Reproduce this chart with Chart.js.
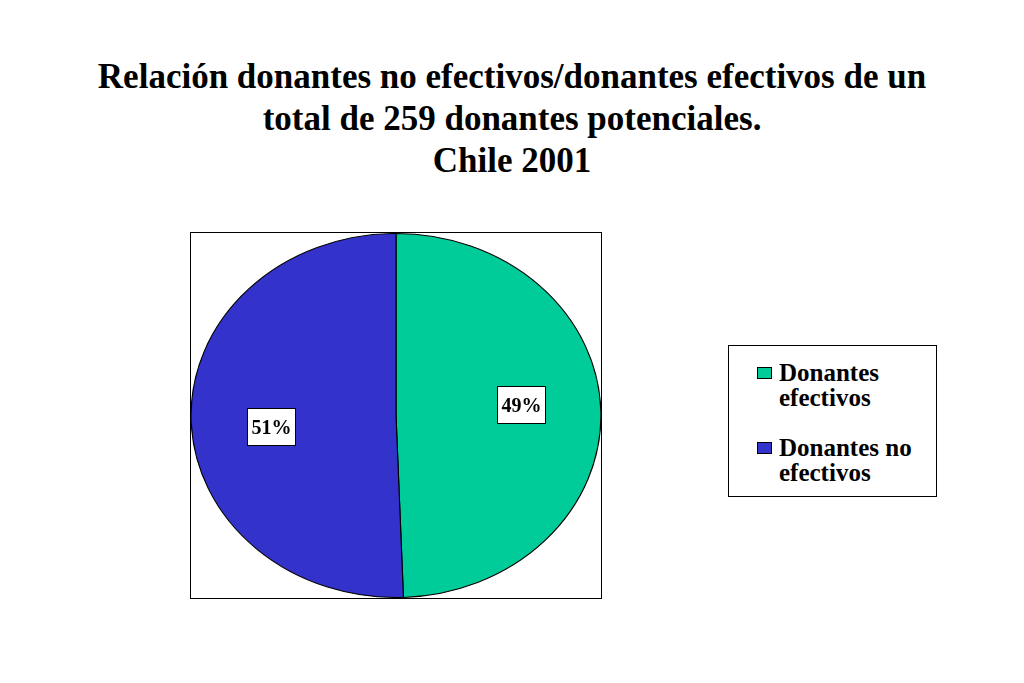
<!DOCTYPE html>
<html>
<head>
<meta charset="utf-8">
<script src="https://cdn.jsdelivr.net/npm/chart.js@4.4.0/dist/chart.umd.min.js"></script>
<style>
html,body{margin:0;padding:0;background:#fff;}
body{width:1024px;height:683px;position:relative;overflow:hidden;font-family:"Liberation Serif","Times New Roman",serif;color:#000;}
#title{position:absolute;left:0;top:56px;width:1024px;text-align:center;font-weight:bold;font-size:35px;line-height:42px;}
#frame{position:absolute;left:190px;top:232px;width:412px;height:367px;box-sizing:border-box;border:1px solid #000;}
#frame canvas{display:block;}
#legend{position:absolute;left:728px;top:345px;width:209px;height:152px;box-sizing:border-box;border:1px solid #000;}
.item{position:absolute;left:0;width:200px;font-weight:bold;font-size:25px;line-height:25px;}
.sw{position:absolute;left:28px;top:7px;width:15px;height:12px;box-sizing:border-box;border:1px solid #000;}
.tx{position:absolute;left:50px;top:0;width:155px;}
</style>
</head>
<body>
<div id="title">Relación donantes no efectivos/donantes efectivos de un<br>total de 259 donantes potenciales.<br>Chile 2001</div>
<div id="frame"><canvas id="c"></canvas></div>
<div id="legend"></div>
<script>
const categories = ['Donantes efectivos', 'Donantes no efectivos'];
const donantes = [128, 131];
const sliceColors = ['#00CC99', '#3333CC'];

const SX = 205.5 / 182.5;      // horizontal stretch of the pie (elliptical pie)
const LABEL_R = 0.615;
const LABEL_SHIFT = -4.5 * Math.PI / 180;

const total = donantes.reduce((a, b) => a + b, 0);

// legend
const legend = document.getElementById('legend');
const tops = [13.5, 88.5];
categories.forEach((c, i) => {
  const it = document.createElement('div');
  it.className = 'item';
  it.style.top = tops[i] + 'px';
  const sw = document.createElement('div');
  sw.className = 'sw';
  sw.style.background = sliceColors[i];
  const tx = document.createElement('div');
  tx.className = 'tx';
  tx.textContent = c;
  it.appendChild(sw); it.appendChild(tx);
  legend.appendChild(it);
});

const ellipsePlugin = {
  id: 'ellipse',
  beforeDatasetsDraw(chart) {
    const a = chart.getDatasetMeta(0).data[0];
    const ctx = chart.ctx;
    ctx.save();
    ctx.translate(a.x, a.y);
    ctx.scale(SX, 1);
    ctx.translate(-a.x, -a.y);
  },
  afterDatasetsDraw(chart) {
    const ctx = chart.ctx;
    ctx.restore();
    const meta = chart.getDatasetMeta(0);
    meta.data.forEach((arc, i) => {
      const p = arc.getProps(['x', 'y', 'startAngle', 'endAngle', 'outerRadius'], true);
      const mid = (p.startAngle + p.endAngle) / 2 + LABEL_SHIFT;
      const px = p.x + Math.cos(mid) * p.outerRadius * LABEL_R * SX;
      const py = p.y + Math.sin(mid) * p.outerRadius * LABEL_R;
      const w = 48, h = 37;
      const bx = Math.round(px - w / 2) + 0.5, by = Math.round(py - h / 2) + 0.5;
      ctx.save();
      ctx.fillStyle = '#fff';
      ctx.fillRect(bx, by, w, h);
      ctx.strokeStyle = '#000';
      ctx.lineWidth = 1;
      ctx.strokeRect(bx, by, w, h);
      ctx.fillStyle = '#000';
      ctx.font = 'bold 20px "Liberation Serif", "Times New Roman", serif';
      ctx.textAlign = 'center';
      ctx.textBaseline = 'alphabetic';
      const pct = Math.round(donantes[i] / total * 100) + '%';
      ctx.fillText(pct, bx + w / 2, by + h / 2 + 7);
      ctx.restore();
    });
  }
};

new Chart(document.getElementById('c'), {
  type: 'pie',
  data: {
    labels: categories,
    datasets: [{
      data: donantes,
      backgroundColor: sliceColors,
      borderColor: '#000',
      borderWidth: 1,
      hoverOffset: 0
    }]
  },
  options: {
    responsive: true,
    maintainAspectRatio: false,
    animation: false,
    events: [],
    radius: 182,
    layout: { padding: 0 },
    plugins: {
      legend: { display: false },
      title: { display: false },
      tooltip: { enabled: false }
    }
  },
  plugins: [ellipsePlugin]
});
</script>
</body>
</html>
